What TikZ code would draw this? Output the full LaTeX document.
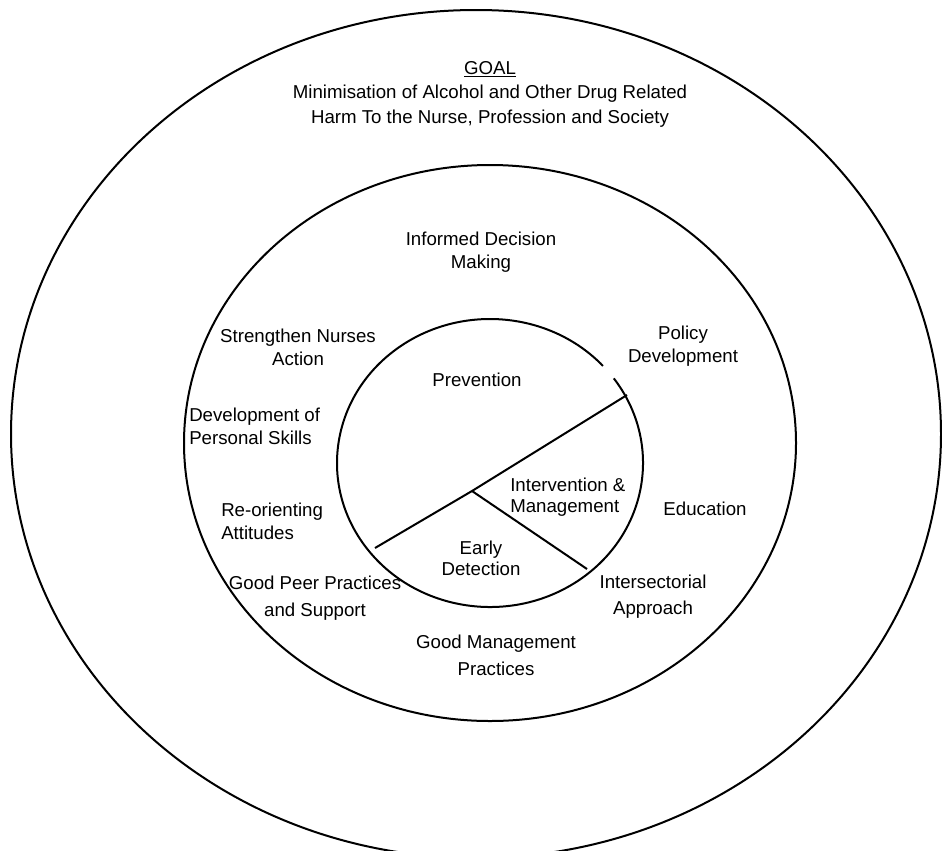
\documentclass[tikz,border=0pt]{standalone}
\usepackage{fontspec}
\setmainfont{Liberation Sans}
\usepackage{tikz}
\usetikzlibrary{calc}
\tikzset{
	lbl/.style={font=\fontsize{14pt}{17.25pt}\selectfont, inner sep=0pt, align=center},
	lblL/.style={lbl, align=left},
	ring/.style={line width=1.5pt}
}

\begin{document}
\begin{tikzpicture}[x=0.75pt,y=-0.75pt]
	\useasboundingbox (0,0) rectangle (942,850);
	% rings
	\draw[ring] (476,434) ellipse [x radius=465, y radius=424];
	\draw[ring] (490,443) ellipse [x radius=306, y radius=278];
	\draw[ring] ($(490,463)+(-36:153 and 144)$) arc [start angle=-36, end angle=317.6, x radius=153, y radius=144];
	% pie
	\coordinate (hub) at (472,491);
	\coordinate (rim1) at (627,395);
	\coordinate (rim2) at (375,548);
	\coordinate (rim3) at (587,569);
	\draw[ring] (rim2) -- (hub) -- (rim1);
	\draw[ring] (hub) -- (rim3);
	% goal
	\node[lbl] (goal) at (490,69) {\underline{GOAL}};
	\node[lbl, font=\fontsize{14pt}{18.5pt}\selectfont] (harm) at (490,106) {Minimisation of Alcohol and Other Drug Related\\Harm To the Nurse, Profession and Society};
	% middle ring
	\node[lbl] (idm) at (481,252) {Informed Decision\\Making};
	\node[lbl] (sna) at (298,347) {Strengthen Nurses\\Action};
	\node[lbl] (pol) at (683,346) {Policy\\Development};
	\node[lblL, anchor=west] (dps) at (189,426) {Development of\\Personal Skills};
	\node[lbl] (edu) at (705,509) {Education};
	\node[lblL, anchor=west] (roa) at (221,521) {Re-orienting\\Attitudes};
	\node[lbl, font=\fontsize{14pt}{20pt}\selectfont] (gpp) at (315,598) {Good Peer Practices\\and Support};
	\node[lbl, font=\fontsize{14pt}{19.5pt}\selectfont] (isa) at (653,597) {Intersectorial\\Approach};
	\node[lbl, font=\fontsize{14pt}{20pt}\selectfont] (gmp) at (496,655) {Good Management\\Practices};
	% inner circle
	\node[lbl] (prev) at (477,380) {Prevention};
	\node[lblL, anchor=west, font=\fontsize{14pt}{15.75pt}\selectfont] (inm) at (510,497) {Intervention \&\\Management};
	\node[lbl, font=\fontsize{14pt}{15.75pt}\selectfont] (edt) at (481,558) {Early\\Detection};
\end{tikzpicture}
\end{document}
